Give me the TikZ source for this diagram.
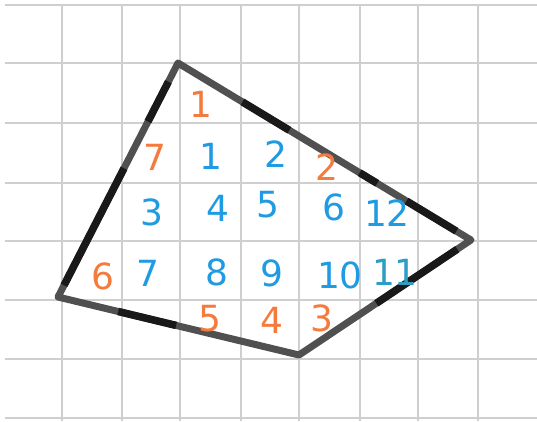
\documentclass[tikz,border=0pt]{standalone}
\usepackage{fontspec}
\setmainfont{DejaVu Sans}
\usetikzlibrary{calc}
\definecolor{gridc}{HTML}{CFCFCF}
\definecolor{edgec}{HTML}{505050}
\definecolor{orng}{HTML}{F47A3E}
\definecolor{blu}{HTML}{1E9BE2}
\definecolor{teal}{HTML}{2C9DC4}
\tikzset{
  gridline/.style={gridc, line width=2.4pt},
  edge/.style={edgec, line width=7pt, line join=round, line cap=round},
  darkseg/.style={black!90, line width=7.5pt},
  num/.style={font=\fontsize{36}{36}\selectfont, inner sep=0pt},
  on/.style={num, text=orng},
  bn/.style={num, text=blu},
}
\begin{document}
\begin{tikzpicture}[x=1pt,y=-1pt]
\useasboundingbox (0,0) rectangle (537,421);
\fill[white] (0,0) rectangle (537,421);
% grid
\foreach \x in {62,122,180,241,299,360,418,478} \draw[gridline] (\x,5) -- (\x,421);
\foreach \y in {5,63,123,183,241,300,359,418} \draw[gridline] (5,\y) -- (537,\y);
% quadrilateral
\coordinate (T) at (178,63);
\coordinate (R) at (471,240);
\coordinate (B) at (299,355);
\coordinate (L) at (58,297);
\draw[edge] (T) -- (R) -- (B) -- (L) -- cycle;
\draw[darkseg] ($(T)!0.08!(L)$) -- ($(T)!0.25!(L)$);
\draw[darkseg] ($(T)!0.45!(L)$) -- ($(T)!0.95!(L)$);
\draw[darkseg] ($(T)!0.22!(R)$) -- ($(T)!0.38!(R)$);
\draw[darkseg] ($(T)!0.62!(R)$) -- ($(T)!0.68!(R)$);
\draw[darkseg] ($(T)!0.78!(R)$) -- ($(T)!0.95!(R)$);
\draw[darkseg] ($(R)!0.08!(B)$) -- ($(R)!0.55!(B)$);
\draw[darkseg] ($(L)!0.25!(B)$) -- ($(L)!0.49!(B)$);
% numbers
\node[on] (o1) at (201,104) {1};
\node[on] (o7) at (155,157) {7};
\node[bn] (b1) at (211,156) {1};
\node[bn] (b2) at (276,154) {2};
\node[on] (o2) at (327,167) {2};
\node[bn] (b3) at (152,212) {3};
\node[bn] (b4) at (218,208) {4};
\node[bn] (b5) at (268,205) {5};
\node[bn] (b6) at (334,207) {6};
\node[bn] (b12) at (387,213) {12};
\node[on] (o6) at (103,276) {6};
\node[bn] (b7) at (148,273) {7};
\node[bn] (b8) at (217,272) {8};
\node[bn] (b9) at (272,273) {9};
\node[bn] (b10) at (340,275) {10};
\node[num, text=teal] (b11) at (395,272) {11};
\node[on] (o5) at (210,319) {5};
\node[on] (o4) at (272,320) {4};
\node[on] (o3) at (322,318) {3};
\end{tikzpicture}
\end{document}
